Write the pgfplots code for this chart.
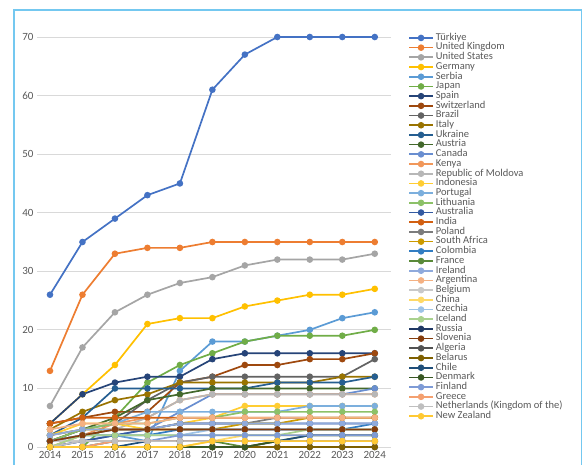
\documentclass[border=0pt]{standalone}
\usepackage{fontspec}
\setmainfont{Carlito}
\usepackage{pgfplots}
\pgfplotsset{compat=1.18}
\definecolor{c1}{HTML}{4472C4}
\definecolor{c2}{HTML}{ED7D31}
\definecolor{c3}{HTML}{A5A5A5}
\definecolor{c4}{HTML}{FFC000}
\definecolor{c5}{HTML}{5B9BD5}
\definecolor{c6}{HTML}{70AD47}
\definecolor{c7}{HTML}{264478}
\definecolor{c8}{HTML}{9E480E}
\definecolor{c9}{HTML}{636363}
\definecolor{c10}{HTML}{997300}
\definecolor{c11}{HTML}{255E91}
\definecolor{c12}{HTML}{43682B}
\definecolor{c13}{HTML}{698ED0}
\definecolor{c14}{HTML}{F1975A}
\definecolor{c15}{HTML}{B7B7B7}
\definecolor{c16}{HTML}{FFCD33}
\definecolor{c17}{HTML}{7CAFDD}
\definecolor{c18}{HTML}{8CC168}
\definecolor{c19}{HTML}{335AA1}
\definecolor{c20}{HTML}{D26012}
\definecolor{c21}{HTML}{7C7C7C}
\definecolor{c22}{HTML}{CC9A00}
\definecolor{c23}{HTML}{327DC2}
\definecolor{c24}{HTML}{5A8A39}
\definecolor{c25}{HTML}{8FAADC}
\definecolor{c26}{HTML}{F4B183}
\definecolor{c27}{HTML}{C9C9C9}
\definecolor{c28}{HTML}{FFD966}
\definecolor{c29}{HTML}{9DC3E6}
\definecolor{c30}{HTML}{A9D18E}
\definecolor{c31}{HTML}{203864}
\definecolor{c32}{HTML}{843C0C}
\definecolor{c33}{HTML}{525252}
\definecolor{c34}{HTML}{7F6000}
\definecolor{c35}{HTML}{1F4E79}
\definecolor{c36}{HTML}{385723}
\definecolor{c37}{HTML}{7E9BD6}
\definecolor{c38}{HTML}{F4A070}
\definecolor{c39}{HTML}{BFBFBF}
\definecolor{c40}{HTML}{FFC933}
\definecolor{txt}{HTML}{595959}
\definecolor{gridc}{HTML}{D9D9D9}
\definecolor{framec}{HTML}{74C8F0}
\pgfplotsset{s/.style={color=#1, mark=*, mark options={fill=#1, draw=#1, solid}}}
\begin{document}
\begin{tikzpicture}
\useasboundingbox (0,0) rectangle (584pt,464pt);
\draw[framec, line width=1.2pt] (14pt,-3pt) -- (14pt,454pt) -- (581.5pt,454pt) -- (581.5pt,-3pt);
\begin{axis}[
  at={(37pt,17pt)}, anchor=south west,
  scale only axis, width=354pt, height=421.7pt,
  xmin=2013.6, xmax=2024.5, ymin=0, ymax=72,
  clip=false,
  separate axis lines,
  axis x line*=bottom, axis y line*=left,
  axis line style={draw=none},
  x axis line style={draw=none},
  y axis line style={draw=none},
  xtick={2014,...,2024}, ytick={0,10,...,70},
  xmajorgrids=false, ymajorgrids=true,
  major grid style={color=gridc, line width=0.8pt},
  major tick length=0pt,
  /pgf/number format/assume math mode=true,
  /pgf/number format/1000 sep={},
  tick label style={font=\fontsize{11}{13}\selectfont, text=txt},
  xticklabel style={yshift=-0.5pt},
  every axis plot/.append style={line width=1.7pt, mark size=2.4pt},
  legend cell align=left,
  legend image code/.code={\draw[mark repeat=2,mark phase=2,#1] plot coordinates {(0pt,0pt)(12pt,0pt)(24pt,0pt)};},
  legend style={at={(rel axis cs:1.048,0.982)}, anchor=north west, draw=none, fill=none, inner sep=0pt,
    row sep=0pt,
    font=\fontsize{10.5}{11}\selectfont,
    nodes={text=txt, inner xsep=2pt, inner ysep=0.7pt, text height=6.5pt, text depth=1.8pt}},
]
\addplot[s=c1] coordinates {(2014,26)(2015,35)(2016,39)(2017,43)(2018,45)(2019,61)(2020,67)(2021,70)(2022,70)(2023,70)(2024,70)};
\addlegendentry{Türkiye}
\addplot[s=c2] coordinates {(2014,13)(2015,26)(2016,33)(2017,34)(2018,34)(2019,35)(2020,35)(2021,35)(2022,35)(2023,35)(2024,35)};
\addlegendentry{United Kingdom}
\addplot[s=c3] coordinates {(2014,7)(2015,17)(2016,23)(2017,26)(2018,28)(2019,29)(2020,31)(2021,32)(2022,32)(2023,32)(2024,33)};
\addlegendentry{United States}
\addplot[s=c4] coordinates {(2014,4)(2015,9)(2016,14)(2017,21)(2018,22)(2019,22)(2020,24)(2021,25)(2022,26)(2023,26)(2024,27)};
\addlegendentry{Germany}
\addplot[s=c5] coordinates {(2014,1)(2015,2)(2016,2)(2017,1)(2018,13)(2019,18)(2020,18)(2021,19)(2022,20)(2023,22)(2024,23)};
\addlegendentry{Serbia}
\addplot[s=c6] coordinates {(2014,0)(2015,0)(2016,5)(2017,11)(2018,14)(2019,16)(2020,18)(2021,19)(2022,19)(2023,19)(2024,20)};
\addlegendentry{Japan}
\addplot[s=c7] coordinates {(2014,4)(2015,9)(2016,11)(2017,12)(2018,12)(2019,15)(2020,16)(2021,16)(2022,16)(2023,16)(2024,16)};
\addlegendentry{Spain}
\addplot[s=c8] coordinates {(2014,4)(2015,5)(2016,6)(2017,6)(2018,11)(2019,12)(2020,14)(2021,14)(2022,15)(2023,15)(2024,16)};
\addlegendentry{Switzerland}
\addplot[s=c9] coordinates {(2014,1)(2015,3)(2016,4)(2017,8)(2018,11)(2019,12)(2020,12)(2021,12)(2022,12)(2023,12)(2024,15)};
\addlegendentry{Brazil}
\addplot[s=c10] coordinates {(2014,3)(2015,6)(2016,8)(2017,9)(2018,11)(2019,11)(2020,11)(2021,11)(2022,11)(2023,12)(2024,12)};
\addlegendentry{Italy}
\addplot[s=c11] coordinates {(2014,2)(2015,5)(2016,10)(2017,10)(2018,10)(2019,10)(2020,10)(2021,11)(2022,11)(2023,11)(2024,12)};
\addlegendentry{Ukraine}
\addplot[s=c12] coordinates {(2014,1)(2015,3)(2016,5)(2017,8)(2018,9)(2019,10)(2020,10)(2021,10)(2022,10)(2023,10)(2024,10)};
\addlegendentry{Austria}
\addplot[s=c13] coordinates {(2014,0)(2015,1)(2016,2)(2017,3)(2018,6)(2019,9)(2020,9)(2021,9)(2022,9)(2023,9)(2024,10)};
\addlegendentry{Canada}
\addplot[s=c14] coordinates {(2014,0)(2015,2)(2016,4)(2017,5)(2018,8)(2019,9)(2020,9)(2021,9)(2022,9)(2023,9)(2024,9)};
\addlegendentry{Kenya}
\addplot[s=c15] coordinates {(2014,1)(2015,2)(2016,3)(2017,5)(2018,8)(2019,9)(2020,9)(2021,9)(2022,9)(2023,9)(2024,9)};
\addlegendentry{Republic of Moldova}
\addplot[s=c16] coordinates {(2014,2)(2015,4)(2016,4)(2017,3)(2018,4)(2019,5)(2020,7)(2021,7)(2022,7)(2023,7)(2024,7)};
\addlegendentry{Indonesia}
\addplot[s=c17] coordinates {(2014,2)(2015,3)(2016,4)(2017,6)(2018,6)(2019,6)(2020,6)(2021,6)(2022,7)(2023,7)(2024,7)};
\addlegendentry{Portugal}
\addplot[s=c18] coordinates {(2014,1)(2015,3)(2016,4)(2017,4)(2018,5)(2019,5)(2020,6)(2021,6)(2022,6)(2023,6)(2024,6)};
\addlegendentry{Lithuania}
\addplot[s=c19] coordinates {(2014,0)(2015,1)(2016,2)(2017,3)(2018,4)(2019,4)(2020,4)(2021,4)(2022,4)(2023,4)(2024,4)};
\addlegendentry{Australia}
\addplot[s=c20] coordinates {(2014,4)(2015,5)(2016,5)(2017,5)(2018,5)(2019,5)(2020,5)(2021,5)(2022,5)(2023,5)(2024,5)};
\addlegendentry{India}
\addplot[s=c21] coordinates {(2014,1)(2015,2)(2016,3)(2017,3)(2018,4)(2019,4)(2020,4)(2021,5)(2022,5)(2023,5)(2024,5)};
\addlegendentry{Poland}
\addplot[s=c22] coordinates {(2014,2)(2015,3)(2016,3)(2017,3)(2018,3)(2019,3)(2020,4)(2021,4)(2022,5)(2023,5)(2024,5)};
\addlegendentry{South Africa}
\addplot[s=c23] coordinates {(2014,1)(2015,2)(2016,2)(2017,2)(2018,3)(2019,3)(2020,3)(2021,3)(2022,3)(2023,3)(2024,4)};
\addlegendentry{Colombia}
\addplot[s=c24] coordinates {(2014,0)(2015,0)(2016,1)(2017,1)(2018,1)(2019,1)(2020,0)(2021,1)(2022,2)(2023,2)(2024,2)};
\addlegendentry{France}
\addplot[s=c25] coordinates {(2014,2)(2015,3)(2016,3)(2017,3)(2018,4)(2019,4)(2020,4)(2021,4)(2022,4)(2023,4)(2024,4)};
\addlegendentry{Ireland}
\addplot[s=c26] coordinates {(2014,3)(2015,4)(2016,4)(2017,4)(2018,5)(2019,5)(2020,5)(2021,5)(2022,5)(2023,5)(2024,5)};
\addlegendentry{Argentina}
\addplot[s=c27] coordinates {(2014,1)(2015,1)(2016,1)(2017,1)(2018,1)(2019,1)(2020,1)(2021,1)(2022,1)(2023,1)(2024,1)};
\addlegendentry{Belgium}
\addplot[s=c28] coordinates {(2014,0)(2015,0)(2016,0)(2017,0)(2018,0)(2019,1)(2020,2)(2021,2)(2022,2)(2023,2)(2024,2)};
\addlegendentry{China}
\addplot[s=c29] coordinates {(2014,1)(2015,2)(2016,2)(2017,2)(2018,2)(2019,3)(2020,3)(2021,3)(2022,3)(2023,3)(2024,3)};
\addlegendentry{Czechia}
\addplot[s=c30] coordinates {(2014,0)(2015,2)(2016,2)(2017,2)(2018,2)(2019,2)(2020,2)(2021,2)(2022,3)(2023,3)(2024,3)};
\addlegendentry{Iceland}
\addplot[s=c31] coordinates {(2014,0)(2015,0)(2016,0)(2017,0)(2018,0)(2019,0)(2020,0)(2021,0)(2022,0)(2023,0)(2024,0)};
\addlegendentry{Russia}
\addplot[s=c32] coordinates {(2014,1)(2015,2)(2016,3)(2017,3)(2018,3)(2019,3)(2020,3)(2021,3)(2022,3)(2023,3)(2024,3)};
\addlegendentry{Slovenia}
\addplot[s=c33] coordinates {(2014,0)(2015,0)(2016,0)(2017,0)(2018,0)(2019,0)(2020,0)(2021,1)(2022,1)(2023,1)(2024,1)};
\addlegendentry{Algeria}
\addplot[s=c34] coordinates {(2014,0)(2015,0)(2016,0)(2017,0)(2018,0)(2019,0)(2020,0)(2021,0)(2022,0)(2023,0)(2024,0)};
\addlegendentry{Belarus}
\addplot[s=c35] coordinates {(2014,0)(2015,0)(2016,0)(2017,1)(2018,1)(2019,1)(2020,1)(2021,1)(2022,2)(2023,2)(2024,2)};
\addlegendentry{Chile}
\addplot[s=c36] coordinates {(2014,0)(2015,0)(2016,0)(2017,0)(2018,0)(2019,0)(2020,0)(2021,1)(2022,1)(2023,1)(2024,1)};
\addlegendentry{Denmark}
\addplot[s=c37] coordinates {(2014,0)(2015,0)(2016,1)(2017,1)(2018,2)(2019,2)(2020,2)(2021,2)(2022,2)(2023,2)(2024,2)};
\addlegendentry{Finland}
\addplot[s=c38] coordinates {(2014,0)(2015,0)(2016,1)(2017,1)(2018,1)(2019,1)(2020,1)(2021,1)(2022,1)(2023,1)(2024,1)};
\addlegendentry{Greece}
\addplot[s=c39] coordinates {(2014,0)(2015,1)(2016,1)(2017,1)(2018,1)(2019,1)(2020,1)(2021,1)(2022,1)(2023,1)(2024,1)};
\addlegendentry{Netherlands (Kingdom of the)}
\addplot[s=c40] coordinates {(2014,0)(2015,0)(2016,0)(2017,0)(2018,0)(2019,1)(2020,1)(2021,1)(2022,1)(2023,1)(2024,1)};
\addlegendentry{New Zealand}
\end{axis}
\end{tikzpicture}
\end{document}
